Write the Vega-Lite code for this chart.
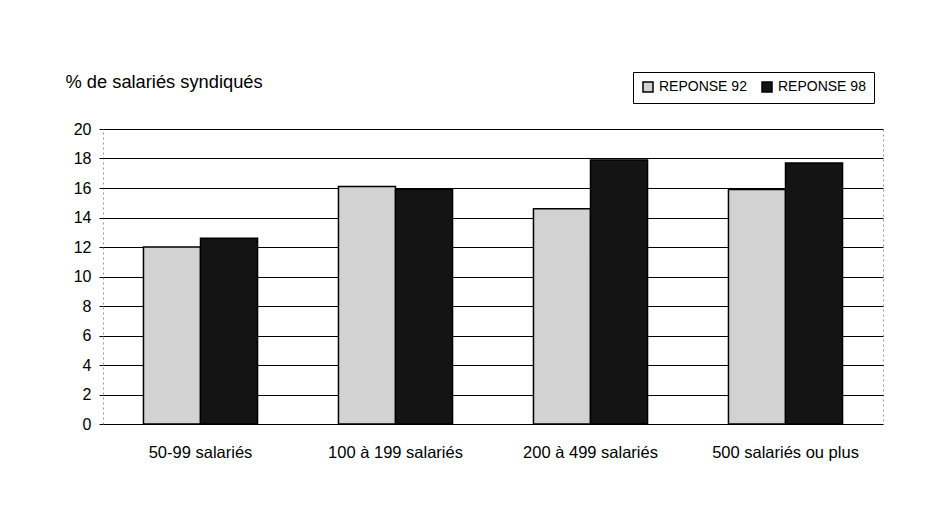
{
  "$schema": "https://vega.github.io/schema/vega-lite/v6.json",
  "autosize": {"type": "none"},
  "padding": {"left": 103, "top": 129, "right": 61, "bottom": 90},
  "width": 780,
  "height": 295,
  "background": "white",
  "config": {
    "font": "Liberation Sans",
    "view": {"stroke": "#999999", "strokeDash": [2, 3], "strokeWidth": 1}
  },
  "data": {
    "values": [
      {"taille": "50-99 salariés", "enquete": "REPONSE 92", "pct": 12.0},
      {"taille": "50-99 salariés", "enquete": "REPONSE 98", "pct": 12.6},
      {"taille": "100 à 199 salariés", "enquete": "REPONSE 92", "pct": 16.1},
      {"taille": "100 à 199 salariés", "enquete": "REPONSE 98", "pct": 15.9},
      {"taille": "200 à 499 salariés", "enquete": "REPONSE 92", "pct": 14.6},
      {"taille": "200 à 499 salariés", "enquete": "REPONSE 98", "pct": 17.9},
      {"taille": "500 salariés ou plus", "enquete": "REPONSE 92", "pct": 15.9},
      {"taille": "500 salariés ou plus", "enquete": "REPONSE 98", "pct": 17.7}
    ]
  },
  "mark": {"type": "bar", "stroke": "black", "strokeWidth": 1.5},
  "encoding": {
    "x": {
      "field": "taille",
      "type": "nominal",
      "sort": ["50-99 salariés", "100 à 199 salariés", "200 à 499 salariés", "500 salariés ou plus"],
      "scale": {"paddingInner": 0.415, "paddingOuter": 0.2075},
      "axis": {
        "title": null,
        "labelAngle": 0,
        "labelFontSize": 16.5,
        "labelColor": "black",
        "domain": false,
        "ticks": false,
        "labelPadding": 20
      }
    },
    "xOffset": {"field": "enquete", "type": "nominal"},
    "y": {
      "field": "pct",
      "type": "quantitative",
      "scale": {"domain": [0, 20]},
      "axis": {
        "values": [0, 2, 4, 6, 8, 10, 12, 14, 16, 18, 20],
        "title": "% de salariés syndiqués",
        "titleAngle": 0,
        "titleAlign": "left",
        "titleBaseline": "middle",
        "titleX": -38,
        "titleY": -47,
        "titleFontSize": 18.3,
        "titleFontWeight": "normal",
        "titleColor": "black",
        "labelFontSize": 16,
        "labelColor": "black",
        "labelPadding": 8,
        "tickSize": 4,
        "tickColor": "black",
        "domain": false,
        "gridColor": "black",
        "gridWidth": 1.2,
        "gridOpacity": 1
      }
    },
    "fill": {
      "field": "enquete",
      "type": "nominal",
      "scale": {"range": ["#d2d2d2", "#141414"]},
      "legend": {
        "orient": "none",
        "legendX": 530,
        "legendY": -57,
        "direction": "horizontal",
        "title": null,
        "strokeColor": "black",
        "fillColor": "white",
        "padding": 8,
        "symbolType": "square",
        "symbolSize": 100,
        "symbolStrokeColor": "black",
        "symbolStrokeWidth": 1.5,
        "labelFontSize": 14,
        "labelColor": "black",
        "columnPadding": 12,
        "encode": {
          "symbols": {
            "update": {
              "fill": {"signal": "datum.label === 'REPONSE 92' ? '#ffffff' : '#141414'"},
              "stroke": {"value": "black"},
              "strokeWidth": {"value": 1.5},
              "opacity": {"value": 1},
              "fillOpacity": {"value": 1}
            }
          }
        }
      }
    }
  }
}
